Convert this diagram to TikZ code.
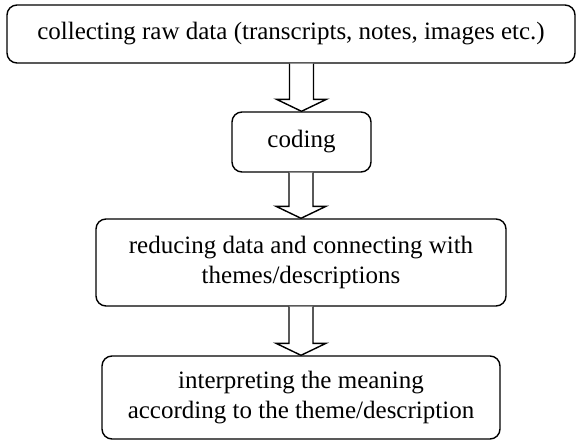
\documentclass[tikz,border=0pt]{standalone}
\usepackage{fontspec}
\setmainfont{Liberation Serif}
\usetikzlibrary{calc}
\tikzset{
  box/.style={draw, line width=1.4pt, rounded corners=10pt, inner sep=0pt, align=center,
    font=\fontsize{25pt}{30pt}\selectfont},
  barrow/.style={draw, line width=1.4pt, fill=white, line join=miter}
}
\newcommand\flowarrow[2]{%
  \draw[barrow] let \p1=(#1.south), \p2=(#2.north) in
    (\x2-12pt,\y1) -- (\x2-12pt,\y2+12pt) -- (\x2-25pt,\y2+12pt) -- (\x2,\y2)
    -- (\x2+25pt,\y2+12pt) -- (\x2+12pt,\y2+12pt) -- (\x2+12pt,\y1);}
\begin{document}
\begin{tikzpicture}[x=1pt,y=1pt]
\useasboundingbox (0,0) rectangle (577,-441);
\node[box, minimum width=568pt, minimum height=58pt] (collect) at (291,-34)
  {collecting raw data (transcripts, notes, images etc.)};
\node[box, minimum width=139pt, minimum height=60pt] (coding) at (301.5,-142) {coding};
\node[box, minimum width=410pt, minimum height=87pt] (reduce) at (301,-262.5)
  {reducing data and connecting with\\themes/descriptions};
\node[box, minimum width=398pt, minimum height=83pt] (interp) at (301,-397.5)
  {interpreting the meaning\\according to the theme/description};
\flowarrow{collect}{coding}
\flowarrow{coding}{reduce}
\flowarrow{reduce}{interp}
\end{tikzpicture}
\end{document}
